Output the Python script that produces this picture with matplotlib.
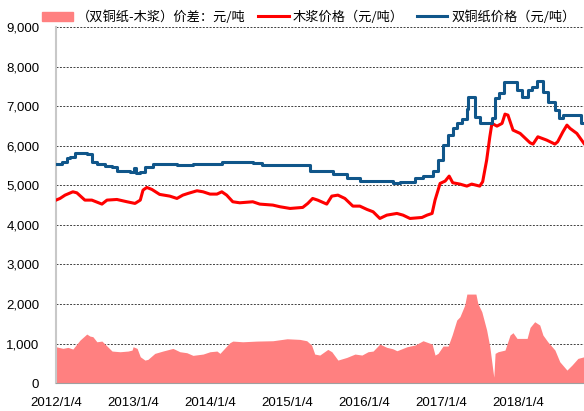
import matplotlib
matplotlib.use('Agg')
from matplotlib import pyplot as plt
from matplotlib.lines import Line2D
from matplotlib.patches import Patch
from matplotlib.ticker import FuncFormatter
import pandas as pd

# 双铜纸价格 (steps)
paper_dates = ['2012-01-04', '2012-02-02', '2012-02-25', '2012-03-09', '2012-04-02',
               '2012-05-29', '2012-06-22', '2012-07-16', '2012-08-23', '2012-09-26',
               '2012-10-19', '2012-12-20', '2013-01-09', '2013-01-18', '2013-02-07',
               '2013-03-01', '2013-04-08', '2013-07-31', '2013-10-15', '2014-03-01',
               '2014-07-26', '2014-09-07', '2015-04-22', '2015-08-10', '2015-10-15',
               '2015-12-16', '2016-05-20', '2016-06-23', '2016-09-03', '2016-10-11',
               '2016-11-28', '2016-12-21', '2017-01-14', '2017-02-07', '2017-03-01',
               '2017-03-20', '2017-04-13', '2017-05-07', '2017-05-12', '2017-06-14',
               '2017-07-07', '2017-09-03', '2017-09-18', '2017-10-06', '2017-10-30',
               '2017-12-31', '2018-01-24', '2018-02-22', '2018-03-11', '2018-04-04',
               '2018-05-03', '2018-05-26', '2018-06-29', '2018-07-17', '2018-08-06',
               '2018-10-30', '2018-11-14']
paper_price = [5530, 5595, 5695, 5720, 5806,
               5780, 5600, 5535, 5486, 5453,
               5367, 5342, 5427, 5317, 5342,
               5469, 5530, 5503, 5545, 5595,
               5553, 5511, 5367, 5284, 5174,
               5115, 5048, 5073, 5174, 5241,
               5367, 5637, 6016, 6270, 6438,
               6565, 6666, 6919, 7222, 6733,
               6565, 6691, 7197, 7323, 7601,
               7407, 7222, 7407, 7491, 7635,
               7365, 7112, 6901, 6691, 6775,
               6565, 6565]

# 木浆价格
pulp_dates = ['2012-01-04', '2012-01-23', '2012-02-16', '2012-03-24', '2012-04-12',
              '2012-05-20', '2012-06-22', '2012-08-09', '2012-09-02', '2012-10-19',
              '2012-12-06', '2013-01-13', '2013-02-07', '2013-02-20', '2013-03-10',
              '2013-04-03', '2013-05-10', '2013-06-27', '2013-07-31', '2013-08-28',
              '2013-09-21', '2013-11-03', '2013-12-02', '2014-01-04', '2014-02-06',
              '2014-03-01', '2014-03-24', '2014-04-22', '2014-05-25', '2014-07-26',
              '2014-08-28', '2014-10-29', '2014-12-02', '2015-01-19', '2015-03-20',
              '2015-04-13', '2015-05-06', '2015-05-30', '2015-07-12', '2015-08-05',
              '2015-09-03', '2015-10-06', '2015-11-13', '2015-12-16', '2016-01-19',
              '2016-02-17', '2016-03-20', '2016-04-22', '2016-06-09', '2016-07-08',
              '2016-08-10', '2016-10-06', '2016-10-30', '2016-11-23', '2016-12-07',
              '2016-12-31', '2017-01-24', '2017-02-12', '2017-03-01', '2017-04-04',
              '2017-05-07', '2017-05-30', '2017-07-07', '2017-07-21', '2017-08-09',
              '2017-08-24', '2017-09-03', '2017-09-27', '2017-10-21', '2017-11-04',
              '2017-11-18', '2017-12-12', '2018-01-15', '2018-03-03', '2018-03-17',
              '2018-04-09', '2018-05-21', '2018-06-29', '2018-07-12', '2018-08-06',
              '2018-08-25', '2018-09-09', '2018-10-11', '2018-11-14']
pulp_price = [4626, 4668, 4752, 4836, 4810,
              4626, 4626, 4525, 4626, 4642,
              4584, 4542, 4626, 4879, 4946,
              4896, 4770, 4727, 4668, 4752,
              4794, 4862, 4836, 4778, 4778,
              4836, 4752, 4584, 4558, 4584,
              4525, 4500, 4458, 4415, 4441,
              4542, 4668, 4626, 4525, 4727,
              4752, 4668, 4474, 4474, 4390,
              4331, 4162, 4246, 4289, 4246,
              4162, 4187, 4246, 4289, 4626,
              5048, 5107, 5233, 5065, 5031,
              4980, 5031, 4980, 5090, 5637,
              6227, 6565, 6497, 6565, 6800,
              6775, 6396, 6312, 6075, 6042,
              6227, 6143, 6042, 6101, 6354,
              6522, 6438, 6312, 6058]

# 价差
spread_dates = ['2012-01-04', '2012-02-06', '2012-03-01', '2012-03-24', '2012-04-27',
                '2012-05-29', '2012-06-13', '2012-06-27', '2012-07-16', '2012-08-09',
                '2012-09-02', '2012-09-26', '2012-11-03', '2012-12-11', '2012-12-30',
                '2013-01-04', '2013-01-23', '2013-02-07', '2013-03-01', '2013-03-15',
                '2013-04-17', '2013-05-25', '2013-07-12', '2013-08-14', '2013-09-16',
                '2013-10-15', '2013-12-02', '2014-01-04', '2014-02-06', '2014-02-20',
                '2014-04-08', '2014-04-22', '2014-06-08', '2014-08-14', '2014-10-29',
                '2015-01-05', '2015-03-06', '2015-04-08', '2015-05-01', '2015-05-16',
                '2015-06-09', '2015-07-17', '2015-08-05', '2015-09-03', '2015-10-15',
                '2015-11-23', '2015-12-26', '2016-01-24', '2016-02-17', '2016-03-20',
                '2016-04-22', '2016-05-20', '2016-06-09', '2016-07-27', '2016-09-03',
                '2016-10-11', '2016-11-23', '2016-12-07', '2016-12-21', '2017-01-14',
                '2017-02-07', '2017-02-26', '2017-03-20', '2017-04-04', '2017-04-27',
                '2017-05-07', '2017-06-19', '2017-06-28', '2017-07-17', '2017-08-09',
                '2017-08-24', '2017-09-08', '2017-09-12', '2017-09-18', '2017-10-02',
                '2017-11-04', '2017-11-28', '2017-12-12', '2017-12-31', '2018-02-17',
                '2018-03-03', '2018-03-25', '2018-04-18', '2018-05-03', '2018-05-26',
                '2018-06-29', '2018-07-22', '2018-08-25', '2018-09-18', '2018-10-16',
                '2018-11-14']
spread = [918, 877, 902, 860, 1087,
          1239, 1188, 1172, 1044, 1061,
          935, 809, 792, 809, 834,
          918, 876, 665, 581, 598,
          750, 809, 876, 792, 767,
          700, 733, 792, 809, 750,
          1020, 1061, 1044, 1061, 1070,
          1120, 1104, 1070, 960, 733,
          708, 851, 792, 581, 648,
          733, 708, 792, 809, 986,
          902, 868, 817, 918, 960,
          1070, 986, 708, 750, 935,
          935, 1214, 1593, 1677, 1972,
          2250, 2250, 2015, 1803, 1340,
          918, 300, 150, 750, 792,
          834, 1214, 1273, 1129, 1129,
          1407, 1551, 1467, 1214, 1044,
          834, 539, 328, 455, 623,
          665]

tick_dates = ['2012-01-04', '2013-01-04', '2014-01-04', '2015-01-04',
              '2016-01-04', '2017-01-04', '2018-01-04']
tick_labels = ['2012/1/4', '2013/1/4', '2014/1/4', '2015/1/4',
               '2016/1/4', '2017/1/4', '2018/1/4']

plt.rcParams['font.family'] = ['Liberation Sans', 'Noto Sans CJK SC', 'DejaVu Sans']
plt.rcParams['font.size'] = 9.5

fig = plt.figure(figsize=(5.84, 4.11), dpi=100)
ax = fig.add_axes([0.0959, 0.068, 0.9041, 0.866])

ax.fill_between(pd.to_datetime(spread_dates), 0, spread, color='#ff8080', lw=0, zorder=2)
ax.plot(pd.to_datetime(pulp_dates), pulp_price, color='#ff0000', lw=2.2, zorder=3)
ax.plot(pd.to_datetime(paper_dates), paper_price, color='#10568a', lw=2.2,
        drawstyle='steps-post', zorder=4)

ax.set_xlim(pd.Timestamp('2012-01-04'), pd.Timestamp('2018-11-14'))
ax.set_ylim(0, 9000)
ax.set_yticks(range(0, 9001, 1000))
ax.yaxis.set_major_formatter(FuncFormatter(lambda v, p: '{:,.0f}'.format(v)))
ax.set_xticks(pd.to_datetime(tick_dates))
ax.set_xticklabels(tick_labels)

ax.grid(axis='y', color='#404040', ls=(0, (2, 1.5)), lw=0.7)
ax.set_axisbelow(True)
ax.tick_params(axis='y', length=0, pad=12)
ax.tick_params(axis='x', direction='in', length=5, color='#a0a0a0', pad=10)
for s in ['top', 'right']:
    ax.spines[s].set_visible(False)
ax.spines['left'].set_color('#c8c8c8')
ax.spines['left'].set_linewidth(1.5)
ax.spines['bottom'].set_color('#a0a0a0')

handles = [Patch(color='#ff8080'),
           Line2D([], [], color='#ff0000', lw=2.2),
           Line2D([], [], color='#10568a', lw=2.2)]
labels = ['（双铜纸-木浆）价差：元/吨', '木浆价格（元/吨）', '双铜纸价格（元/吨）']
fig.legend(handles, labels, loc='center left', bbox_to_anchor=(0.052, 0.958), ncol=3,
           frameon=False, handlelength=2.3, handleheight=0.7, handletextpad=0.3,
           columnspacing=1.0, prop={'family': ['Noto Sans CJK SC', 'DejaVu Sans'], 'size': 9.5})

plt.savefig('out.png', dpi=100)
